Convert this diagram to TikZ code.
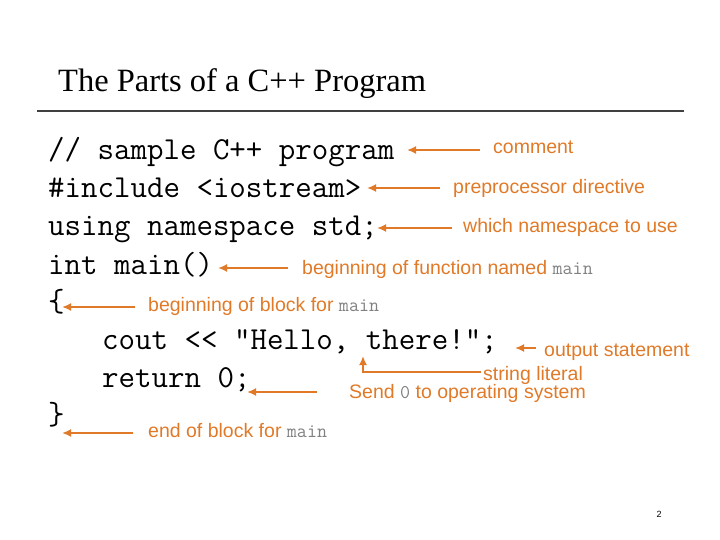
\documentclass[tikz,border=0pt]{standalone}
\usepackage{fontspec}
\setmainfont{Liberation Serif}
\setsansfont{Liberation Sans}
\setmonofont{Latin Modern Mono}
\usetikzlibrary{arrows.meta}
\definecolor{lab}{RGB}{224,122,40}
\begin{document}
\begin{tikzpicture}[x=1pt,y=-1pt,
  code/.style={anchor=base west,inner sep=0,font=\ttfamily\fontsize{32}{32}\selectfont},
  lbl/.style={anchor=base west,inner sep=0,text=lab,font=\sffamily\fontsize{19.5}{19.5}\selectfont},
  arr/.style={draw=lab,line width=2.6pt,-{Latex[length=9pt,width=8pt]}}]
\path[use as bounding box] (0,0) rectangle (720,540);
\node[anchor=base west,inner sep=0,font=\fontsize{32.5}{32.5}\selectfont] (title) at (58,92) {The Parts of a C++ Program};
\draw[line width=1.2pt,black!75] (37,111) coordinate (l1) -- (684,111) coordinate (l2);
\node[code] (c1) at (48,160) {// sample C++ program};
\node[code] (c2) at (48,198) {\#include <iostream>};
\node[code] (c3) at (48,236) {using namespace std;};
\node[code] (c4) at (48,274) {int main()};
\node[code] (c5) at (48,311) {\{};
\node[code] (c6) at (102,349) {cout << "Hello, there!";};
\node[code] (c7) at (102,387) {return 0;};
\node[code] (c8) at (48,424) {\}};
\node[lbl] (t1) at (493,154) {comment};
\node[lbl] (t2) at (453,194) {preprocessor directive};
\node[lbl] (t3) at (463,233) {which namespace to use};
\node[lbl] (t4) at (302,274) {beginning of function named {\ttfamily\color{gray}main}};
\node[lbl] (t5) at (148,311) {beginning of block for {\ttfamily\color{gray}main}};
\node[lbl] (t6) at (544,356) {output statement};
\node[lbl] (t7) at (483,380) {string literal};
\node[lbl] (t8) at (349,398) {Send {\ttfamily\color{gray}0} to operating system};
\node[lbl] (t9) at (148,437) {end of block for {\ttfamily\color{gray}main}};
\coordinate (a1) at (480,150); \coordinate (b1) at (407,150);
\coordinate (a2) at (440,188); \coordinate (b2) at (367,188);
\coordinate (a3) at (452,228); \coordinate (b3) at (377,228);
\coordinate (a4) at (288,268); \coordinate (b4) at (218,268);
\coordinate (a5) at (135,307); \coordinate (b5) at (62,307);
\coordinate (a6) at (536,348); \coordinate (b6) at (515,348);
\coordinate (a7) at (481,372); \coordinate (b7) at (363,356);
\coordinate (a8) at (317,392); \coordinate (b8) at (247,392);
\coordinate (a9) at (133,433); \coordinate (b9) at (62,433);
\foreach \i in {1,2,3,4,5,6,8,9} {\draw[arr] (a\i) -- (b\i);}
\draw[arr] (a7) -| (b7);
\node[anchor=base,inner sep=0,font=\sffamily\fontsize{9}{9}\selectfont] (pg) at (659,517) {2};
\end{tikzpicture}
\end{document}
